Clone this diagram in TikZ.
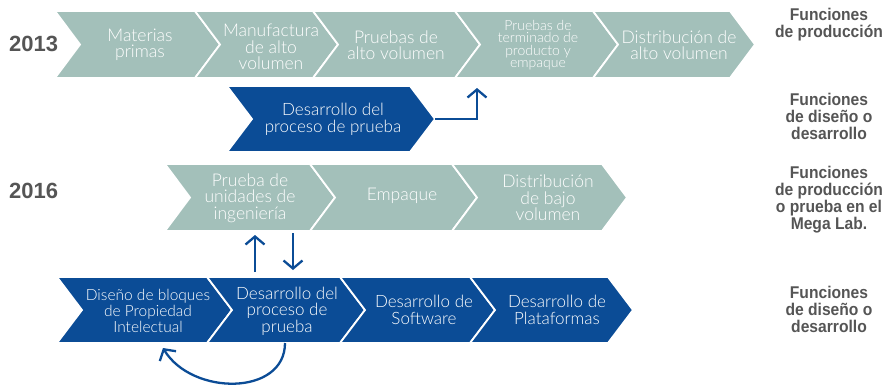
\documentclass[tikz,border=0pt]{standalone}
\usepackage{fontspec}
\setmainfont{Liberation Sans}
\newfontfamily\labfont[FakeStretch=0.92]{Liberation Sans}
\newfontfamily\lightfont{Lato Light}
\usetikzlibrary{arrows.meta}
\definecolor{sage}{HTML}{A3C0BA}
\definecolor{navy}{HTML}{0B4C96}
\definecolor{labgray}{HTML}{555555}
% chevron: #1 tip coordinate name, #2 left x, #3 right x, #4 top y, #5 bottom y, #6 fill colour
\newcommand\chevron[6]{%
  \fill[#6, draw=white, line width=1.8pt, line join=miter]
    (#2,#4) -- (#3,#4) -- ({#3+25},{(#4+#5)/2}) -- (#3,#5) -- (#2,#5) -- ({#2+25},{(#4+#5)/2}) -- cycle;
  \coordinate (#1) at ({#3+25},{(#4+#5)/2});}
\tikzset{
  gtxt/.style={text=white, align=center, font=\lightfont\fontsize{17.5}{16.5}\selectfont, inner sep=0pt},
  btxt/.style={text=white, align=center, font=\lightfont\fontsize{17}{17}\selectfont, inner sep=0pt},
  lab/.style={text=labgray, align=center, font=\labfont\bfseries\fontsize{17}{17}\selectfont, inner sep=0pt},
  yearlab/.style={text=labgray, font=\bfseries\fontsize{22}{22}\selectfont, anchor=west, inner sep=0pt},
  barrow/.style={draw=navy, line width=2.3pt, line join=miter,
    -{Straight Barb[length=8pt,width=19pt,line width=2.3pt]}},
}
\begin{document}
\begin{tikzpicture}[x=1pt,y=-1pt]
\useasboundingbox (0,0) rectangle (887,384);
% ---- row 1 (2013, production)
\chevron{p1tip}{55}{195}{11}{78}{sage}
\chevron{p2tip}{195}{313}{11}{78}{sage}
\chevron{p3tip}{313}{455}{11}{78}{sage}
\chevron{p4tip}{455}{593}{11}{78}{sage}
\chevron{p5tip}{593}{730}{11}{78}{sage}
\node[yearlab] (y13) at (9,44) {2013};
\node[gtxt] (p1) at (140,45) {Materias\\primas};
\node[gtxt] (p2) at (271,47) {Manufactura\\de alto\\volumen};
\node[gtxt] (p3) at (396,45) {Pruebas de\\alto volumen};
\node[gtxt, font=\lightfont\fontsize{14}{12.5}\selectfont] (p4) at (538,45) {Pruebas de\\terminado de\\producto y\\empaque};
\node[gtxt] (p5) at (679,45) {Distribución de\\alto volumen};
\node[lab] (l1) at (829,25) {Funciones\\de producción};
% ---- row 2 (2013, design)
\chevron{d0tip}{227}{410}{86}{152}{navy}
\node[btxt] (d0) at (333,119) {Desarrollo del\\proceso de prueba};
\coordinate (up1) at (477,88);
\draw[barrow] (d0tip) -| (up1);
\node[lab] (l2) at (829,116) {Funciones\\de diseño o\\desarrollo};
% ---- row 3 (2016, production / test)
\chevron{q1tip}{165}{310}{164}{231}{sage}
\chevron{q2tip}{310}{452}{164}{231}{sage}
\chevron{q3tip}{452}{602}{164}{231}{sage}
\node[yearlab] (y16) at (9,191) {2016};
\node[gtxt] (q1) at (250,198) {Prueba de\\unidades de\\ingeniería};
\node[gtxt] (q2) at (402,196) {Empaque};
\node[gtxt] (q3) at (548,198) {Distribución\\de bajo\\volumen};
\node[lab] (l3) at (829,200) {Funciones\\de producción\\o prueba en el\\Mega Lab.};
% ---- row 4 (2016, design)
\chevron{r1tip}{57}{207}{277}{343}{navy}
\chevron{r2tip}{207}{340}{277}{343}{navy}
\chevron{r3tip}{340}{470}{277}{343}{navy}
\chevron{r4tip}{470}{608}{277}{343}{navy}
\node[btxt, font=\lightfont\fontsize{15.5}{16}\selectfont] (r1) at (148,311) {Diseño de bloques\\de Propiedad\\Intelectual};
\node[btxt, font=\lightfont\fontsize{17}{16.5}\selectfont] (r2) at (287,311) {Desarrollo del\\proceso de\\prueba};
\node[btxt] (r3) at (424,310) {Desarrollo de\\Software};
\node[btxt] (r4) at (557,310) {Desarrollo de\\Plataformas};
\node[lab] (l4) at (829,309) {Funciones\\de diseño o\\desarrollo};
% ---- connectors between rows 3 and 4
\coordinate (upS) at (255,272);
\coordinate (upE) at (255,235);
\coordinate (dnS) at (293,233);
\coordinate (dnE) at (293,270);
\draw[barrow] (upS) -- (upE);
\draw[barrow] (dnS) -- (dnE);
% ---- loop back arrow
\coordinate (lpS) at (285,343);
\coordinate (lpE) at (163,348);
\draw[barrow] (lpS) .. controls (285,396) and (192,396) .. (lpE);
\end{tikzpicture}
\end{document}
